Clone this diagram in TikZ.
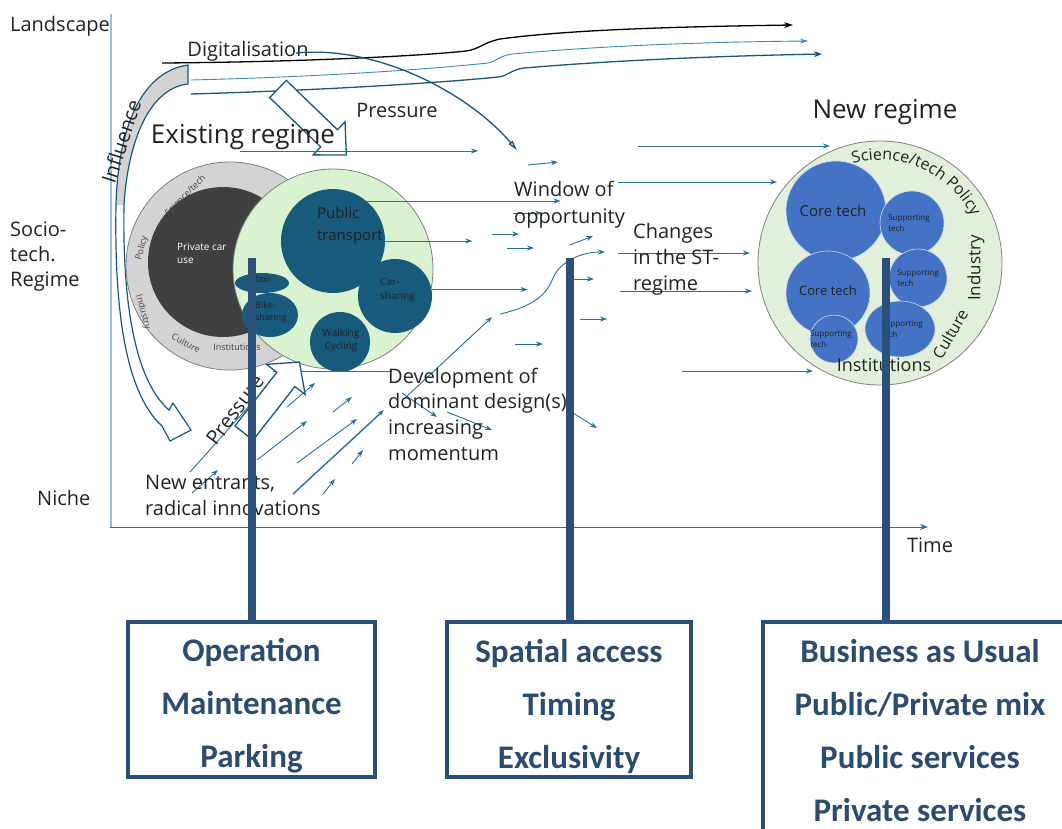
\documentclass[tikz,border=0pt]{standalone}
\usepackage{fontspec}
\setmainfont{Open Sans}
\newfontfamily\boxfont{Carlito}
\usepackage{tikz}
\usetikzlibrary{positioning, shapes.geometric, arrows.meta, decorations.text}

\definecolor{axisblue}{HTML}{9DC0D4}
\definecolor{flowblue}{HTML}{2A7092}
\definecolor{paleflow}{HTML}{3F8AAB}
\definecolor{deepteal}{HTML}{1B5674}
\definecolor{navybar}{HTML}{2A4F78}
\definecolor{ringgray}{HTML}{D3D3D3}
\definecolor{cardark}{HTML}{404040}
\definecolor{altgreen}{HTML}{D9F2D0}
\definecolor{altblue}{HTML}{175A7C}
\definecolor{newgreen}{HTML}{E2EFDA}
\definecolor{techblue}{HTML}{4472C4}
\definecolor{ink}{HTML}{222222}
\definecolor{boxink}{HTML}{2B4C70}

% hollow block arrow: length, shaft half width, head half width, head length
\newcommand\blockarrow[4]{%
  (0,-#2) -- ({#1-#4},-#2) -- ({#1-#4},-#3) -- (#1,0)
  -- ({#1-#4},#3) -- ({#1-#4},#2) -- (0,#2) -- cycle}

\begin{document}
\begin{tikzpicture}[
    x=1pt, y=-1pt,
    txt/.style={font=\fontsize{20}{26}\selectfont, text=ink, align=left, inner sep=0pt},
    head/.style={font=\fontsize{26}{30}\selectfont, text=ink, inner sep=0pt},
    ring/.style={font=\fontsize{9}{10}\selectfont, text=cardark, inner sep=0pt},
    tiny/.style={font=\fontsize{9}{12}\selectfont, text=ink, align=left, inner sep=0pt},
    mode/.style={circle, fill=altblue, inner sep=0pt},
    tech/.style={circle, fill=techblue, draw=white!75!techblue, line width=0.6pt, inner sep=0pt},
    flow/.style={flowblue, line width=0.9pt, -{Stealth[length=7pt,width=5pt]}},
    link/.style={flowblue, line width=0.9pt},
    bar/.style={navybar, line width=8pt},
    push/.style={draw=deepteal, line width=1.3pt, fill=white},
    outcome/.style={draw=navybar, line width=3.5pt, inner sep=0pt},
    outtext/.style={text=boxink, align=center, inner sep=0pt,
      font=\boxfont\fontsize{33}{53}\selectfont\bfseries}
  ]
  \useasboundingbox (0,0) rectangle (1062,828);

  % axes
  \draw[axisblue, line width=1.5pt] (111,14) -- (111,528);
  \draw[flowblue, line width=1pt, -{Stealth[length=8pt,width=6pt]}] (110,527) -- (928,527);

  \node[txt, anchor=west] (land) at (10,26) {Landscape};
  \node[txt, anchor=west, font=\fontsize{20}{25}\selectfont] (socio) at (10,257) {Socio-\\tech.\\Regime};
  \node[txt, anchor=west] (niche) at (37,498) {Niche};
  \node[txt] (time) at (930,545) {Time};

  % landscape trends
  \draw[black, line width=1.3pt, -{Stealth[length=9pt,width=6pt]}]
    (162,63) .. controls (300,62) and (420,56) .. (466,51)
    .. controls (480,49) and (482,43) .. (500,39)
    .. controls (560,31) and (650,27) .. (793,25);
  \draw[paleflow, line width=0.9pt, -{Stealth[length=8pt,width=5pt]}]
    (191,80) .. controls (350,76) and (450,67) .. (488,63)
    .. controls (497,61) and (499,56) .. (512,54)
    .. controls (600,46) and (700,42) .. (808,41);
  \draw[deepteal, line width=1.3pt, -{Stealth[length=8pt,width=6pt]}]
    (191,94) .. controls (330,90) and (450,82) .. (498,77)
    .. controls (508,76) and (510,70) .. (524,68)
    .. controls (620,60) and (720,56) .. (822,54);
  \node[txt] (digital) at (248,51) {Digitalisation};
  \draw[deepteal, line width=1.3pt, -{Triangle[open,length=10pt,width=5pt]}]
    (296,53) .. controls (380,45) and (470,95) .. (517,150);

  % influence on the regime
  \fill[ringgray] (188,65) .. controls (140,72) and (118,130) .. (116,205)
    -- (124,205) .. controls (128,140) and (150,88) .. (188,84) -- cycle;
  \draw[deepteal, line width=1.2pt]
    (188,84) -- (188,65) .. controls (140,72) and (118,130) .. (116,205)
    .. controls (114,320) and (128,395) .. (162,426)
    -- (170,441) -- (191,430) -- (173,403) -- (169,410)
    .. controls (140,385) and (122,320) .. (124,205)
    .. controls (128,140) and (150,88) .. (188,84);
  \node[txt, rotate=72] (influence) at (121,141) {Influence};

  % pressure from the landscape
  \begin{scope}[shift={(278,89)}, rotate=-44]
    \draw[push] \blockarrow{95}{12}{23}{24};
  \end{scope}
  \node[txt] (pressure) at (397,110) {Pressure};
  \node[head] (exist) at (243,137) {Existing regime};

  % existing regime
  \node[circle, fill=ringgray, draw=gray, line width=0.8pt, minimum size=208pt] (old) at (230,266) {};
  \node[circle, fill=cardark, minimum size=150pt] (car) at (223,262) {};
  \node[font=\fontsize{10}{13}\selectfont, text=white, align=left, anchor=north west, inner sep=0pt]
    (carlbl) at (177,243) {Private car\\use};
  \node[ring, rotate=45] (ost) at (185,195) {Science/tech};
  \node[ring, rotate=75] (opol) at (142,248) {Policy};
  \node[ring, rotate=-75] (oind) at (143,312) {Industry};
  \node[ring, rotate=-28] (ocul) at (186,343) {Culture};
  \node[ring] (oinst) at (237,347) {Institutions};

  \node[circle, fill=altgreen, draw=gray, line width=0.8pt, minimum size=200pt] (alt) at (333,269) {};
  \node[mode, minimum size=104pt] (pt) at (333,241) {};
  \node[txt, anchor=west, font=\fontsize{15}{22}\selectfont] (ptlbl) at (317,226) {Public\\transport};
  \node[mode, minimum size=74pt] (cs) at (395,296) {};
  \node[tiny, font=\fontsize{10}{14}\selectfont, anchor=west] (cslbl) at (380,290) {Car-\\sharing};
  \node[mode, minimum size=60pt] (wc) at (340,342) {};
  \node[tiny, font=\fontsize{10}{13}\selectfont, align=center] (wclbl) at (341,340) {Walking\\Cycling};
  \node[mode, ellipse, minimum width=54pt, minimum height=20pt] (taxi) at (262,283) {};
  \node[tiny] (taxilbl) at (262,279) {Taxi};
  \node[mode, ellipse, minimum width=56pt, minimum height=44pt] (bike) at (270,315) {};
  \node[tiny, anchor=west] (bikelbl) at (255,312) {Bike-\\sharing};

  % flows through the regime level
  \draw[flow] (240,151) -- (478,151);
  \draw[flow] (pt.50) -- ++(194,0);
  \draw[flow] (pt.east) -- ++(87,0);
  \draw[flow] (cs.10) -- ++(96,0);
  \draw[link] (273,371) -- (392,371);
  \foreach \xa/\ya/\xb/\yb in {528/165/558/162, 513/213/542/213, 492/234/519/234,
      507/248/534/248, 570/245/593/236, 573/279/594/279, 580/319/607/319,
      515/344/543/344, 573/413/597/428, 638/146/830/146, 618/182/777/182,
      618/253/750/253, 620/291/752/291, 682/371/813/371}
    \draw[flow] (\xa,\ya) -- (\xb,\yb);
  \draw[flow] (500,314) .. controls (540,305) and (548,290) .. (553,278)
    .. controls (560,262) and (580,252) .. (605,252);

  % niche momentum
  \draw[link] (190,472) -- (250,405);
  \foreach \xa/\ya/\xb/\yb in {192/493/218/470, 257/460/307/421, 287/407/315/383,
      333/412/352/397, 297/463/357/419, 352/464/363/450, 323/494/335/479,
      402/393/437/417, 447/412/492/430, 405/398/492/317}
    \draw[flow] (\xa,\ya) -- (\xb,\yb);
  \draw[flow, line width=1.4pt] (293,494) -- (384,410);

  % pressure from the niches
  \begin{scope}[shift={(244,433)}, rotate=52]
    \draw[push] \blockarrow{90}{11.5}{24.5}{22};
  \end{scope}
  \node[txt, rotate=53] (pressure2) at (235,410) {Pressure};

  \node[txt, anchor=west] (entrants) at (145,495) {New entrants,\\radical innovations};
  \node[txt, anchor=west, font=\fontsize{20}{25.7}\selectfont] (develop) at (388,414) {Development of\\dominant design(s)\\increasing\\momentum};
  \node[txt, anchor=west, font=\fontsize{20}{27}\selectfont] (window) at (514,205) {Window of\\opportunity};
  \node[txt, anchor=west] (changes) at (633,259) {Changes\\in the ST-\\regime};

  % new regime
  \node[head] (newlbl) at (885,112) {New regime};
  \node[circle, fill=newgreen, draw=gray, line width=0.8pt, minimum size=244pt] (new) at (880,263) {};
  \node[tech, minimum size=100pt] (core1) at (836,211) {};
  \node[txt, font=\fontsize{15}{18}\selectfont] (core1lbl) at (833,211) {Core tech};
  \node[tech, minimum size=64pt] (sup1) at (912,223) {};
  \node[tech, minimum size=84pt] (core2) at (828,293) {};
  \node[txt, font=\fontsize{13}{16}\selectfont] (core2lbl) at (828,291) {Core tech};
  \node[tech, minimum size=58pt] (sup2) at (918,278) {};
  \node[tech, ellipse, minimum width=70pt, minimum height=56pt] (sup3) at (900,329) {};
  \node[tech, minimum size=48pt] (sup4) at (834,339) {};
  \foreach \s/\dx in {sup1/-3, sup2/0, sup3/2, sup4/-3}
    \node[tiny, font=\fontsize{8}{11}\selectfont] (\s lbl) at ([xshift=\dx pt]\s.center) {Supporting\\tech};

  \path[decorate, decoration={text along path, text align=center, text color=ink,
      text={|\fontsize{16}{16}\selectfont|Science/tech Policy}}]
    (new.center) ++(-140:103) arc[start angle=-140, end angle=8, radius=103];
  \node[txt, font=\fontsize{17}{17}\selectfont, rotate=90] (nind) at (976,268) {Industry};
  \node[txt, font=\fontsize{16}{16}\selectfont, rotate=60] (ncul) at (950,334) {Culture};
  \node[txt, font=\fontsize{18}{18}\selectfont] (ninst) at (884,365) {Institutions};

  % outcome boxes
  \node[outcome, minimum width=247pt, minimum height=155pt] (ops) at (251.5,699.5) {};
  \node[outtext] (opstext) at (251.5,706) {Operation\\Maintenance\\Parking};
  \node[outcome, minimum width=244pt, minimum height=155pt] (acc) at (569,699.5) {};
  \node[outtext] (acctext) at (569,706) {Spatial access\\Timing\\Exclusivity};
  \node[outcome, minimum width=314pt, minimum height=217pt] (bau) at (920,730.5) {};
  \node[outtext] (bautext) at (920,730.5) {Business as Usual\\Public/Private mix\\Public services\\Private services};

  \coordinate (t1) at (251.5,258);
  \coordinate (t2) at (569.5,258);
  \coordinate (t3) at (886,258);
  \draw[bar] (t1) -- (t1 |- ops.north);
  \draw[bar] (t2) -- (t2 |- acc.north);
  \draw[bar] (t3) -- (t3 |- bau.north);
\end{tikzpicture}
\end{document}
